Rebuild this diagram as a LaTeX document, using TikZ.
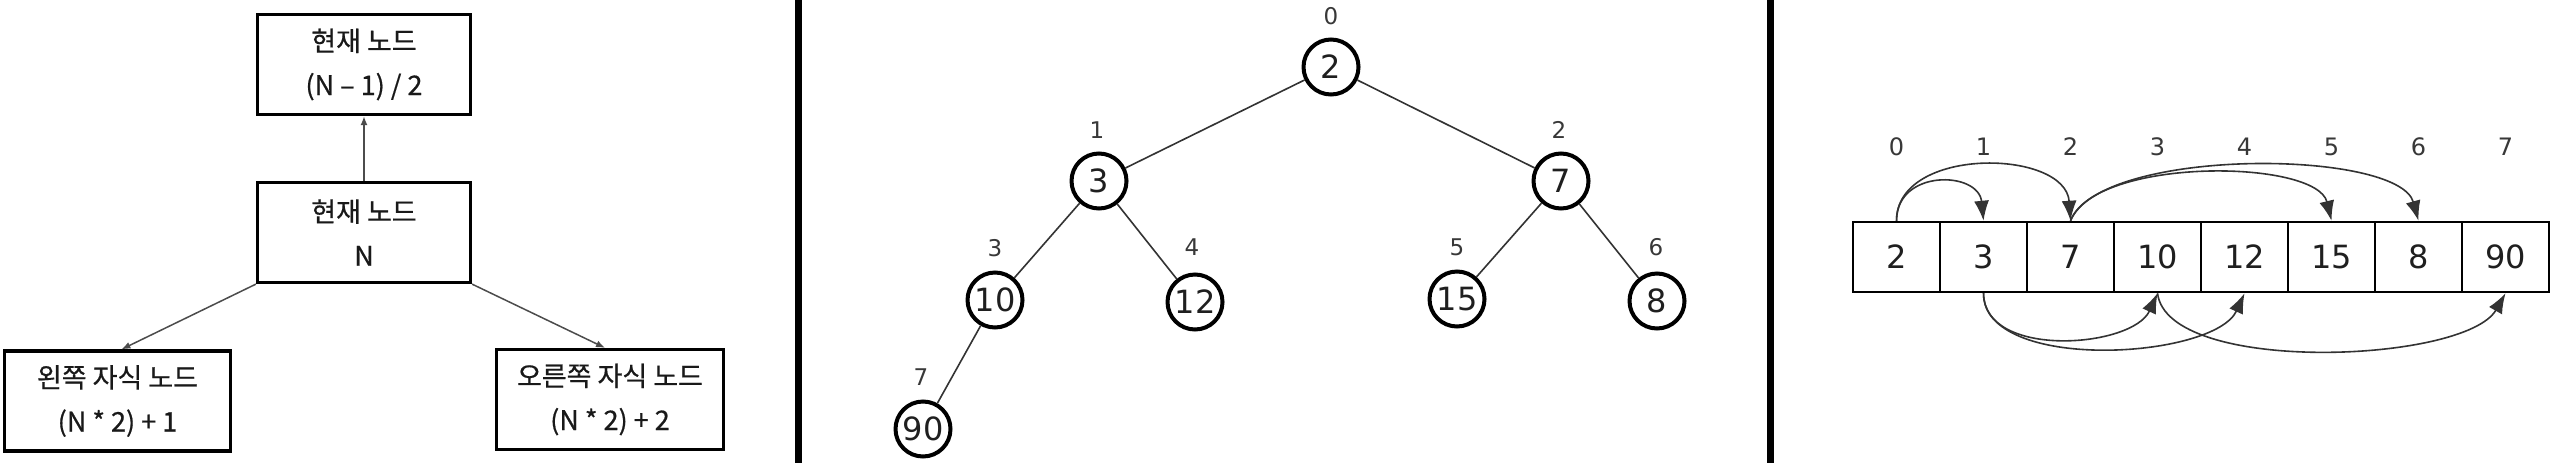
\documentclass[tikz,border=0pt]{standalone}
\usepackage{fontspec}
\setmainfont{DejaVu Sans}
\newfontfamily\kofont[FakeBold=0.6]{Noto Sans CJK KR}
\usetikzlibrary{arrows.meta,calc}
\begin{document}
\begin{tikzpicture}[x=1pt,y=-1pt,
  box/.style={draw=black,line width=3.3pt,minimum width=213pt,minimum height=100pt,inner sep=0pt,align=center,
    font=\kofont\fontsize{27}{44}\selectfont,text=black!90},
  conn/.style={draw=black!70,line width=1.5pt},
  smalltip/.style={-{Latex[length=9pt,width=7pt]}},
  sepline/.style={line width=7pt,draw=black},
  tnode/.style={circle,draw=black,line width=4pt,minimum size=55pt,inner sep=0pt,
    font=\fontsize{32}{32}\selectfont,text=black!88},
  tidx/.style={inner sep=0pt,font=\fontsize{23}{23}\selectfont,text=black!78},
  tedge/.style={draw=black!80,line width=1.6pt},
  cell/.style={draw=black,line width=2.5pt,minimum width=87pt,minimum height=70pt,inner sep=0pt,
    font=\fontsize{32}{32}\selectfont,text=black!88},
  aidx/.style={inner sep=0pt,font=\fontsize{24}{24}\selectfont,text=black!78},
  aconn/.style={draw=black!80,line width=1.6pt,-{Latex[length=20pt,width=15pt]}}
]
\useasboundingbox[fill=white] (0,0) rectangle (2566,472);

% ---------- left panel ----------
\node[box] (top) at (364,64.5) {현재 노드\\(N – 1) / 2};
\node[box] (mid) at (364,232.5) {현재 노드\\N};
\node[box,minimum width=226pt] (lch) at (117.5,401) {왼쪽 자식 노드\\(N * 2) + 1};
\node[box,minimum width=227pt] (rch) at (610,399.5) {오른쪽 자식 노드\\(N * 2) + 2};
\draw[conn,smalltip] (mid.north) -- (top.south);
\draw[conn,smalltip] (mid.south west) -- ([xshift=4pt]lch.north);
\draw[conn,smalltip] (mid.south east) -- ([xshift=-5pt]rch.north);

% ---------- separators ----------
\coordinate (s1a) at (798,0);
\coordinate (s1b) at (798,463);
\coordinate (s2a) at (1770,0);
\coordinate (s2b) at (1770,463);
\draw[sepline] (s1a) -- (s1b);
\draw[sepline] (s2a) -- (s2b);

% ---------- tree ----------
\node[tnode] (n0) at (1331,67) {2};
\node[tnode] (n1) at (1099,181) {3};
\node[tnode] (n2) at (1561,181) {7};
\node[tnode] (n3) at (995,300) {10};
\node[tnode] (n4) at (1195,302) {12};
\node[tnode] (n5) at (1457,299) {15};
\node[tnode] (n6) at (1657,301) {8};
\node[tnode] (n7) at (923,429) {90};
\draw[tedge] (n0) -- (n1);
\draw[tedge] (n0) -- (n2);
\draw[tedge] (n1) -- (n3);
\draw[tedge] (n1) -- (n4);
\draw[tedge] (n2) -- (n5);
\draw[tedge] (n2) -- (n6);
\draw[tedge] (n3) -- (n7);
\node[tidx] (t0) at (1331,16) {0};
\node[tidx] (t1) at (1097,130) {1};
\node[tidx] (t2) at (1559,130) {2};
\node[tidx] (t3) at (995,248) {3};
\node[tidx] (t4) at (1192,247) {4};
\node[tidx] (t5) at (1457,247) {5};
\node[tidx] (t6) at (1656,247) {6};
\node[tidx] (t7) at (921,377) {7};

% ---------- array ----------
\foreach \v [count=\i from 0] in {2,3,7,10,12,15,8,90} {
  \node[cell] (c\i) at ({1896.5+87*\i},257) {\v};
  \node[aidx] (a\i) at ({1896.5+87*\i},147) {\i};
}
\draw[aconn] (c0.north) .. controls +(0,-52) and +(-5,-50) .. (c1.north);
\draw[aconn] (c0.north) .. controls +(0,-75) and +(-5,-72) .. (c2.north);
\draw[aconn] (c2.north) .. controls +(25,-64) and +(-15,-62) .. (c5.north);
\draw[aconn] (c2.north) .. controls +(30,-74) and +(-20,-72) .. (c6.north);
\draw[aconn] (c1.south) .. controls +(0,66) and +(-25,55) .. (c3.south);
\draw[aconn] (c1.south) .. controls +(0,80) and +(-30,66) .. (c4.south);
\draw[aconn] (c3.south) .. controls +(10,82) and +(-40,70) .. (c7.south);
\end{tikzpicture}
\end{document}
